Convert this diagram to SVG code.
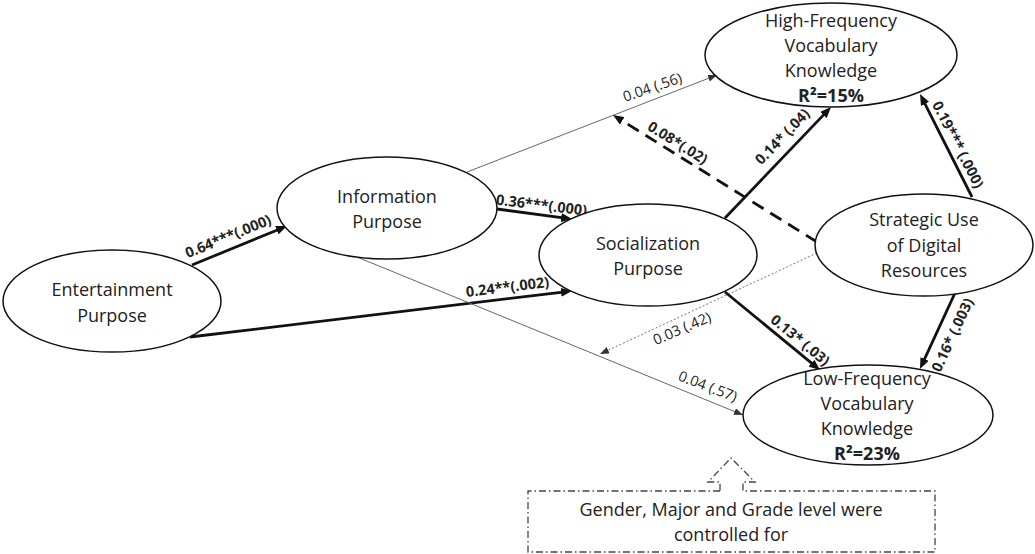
<svg xmlns="http://www.w3.org/2000/svg" width="1035" height="554" viewBox="0 0 1035 554">
<style>
.node ellipse{fill:#fff;stroke:#111;stroke-width:1.5}
.nt{font-family:"Open Sans","Liberation Sans",sans-serif;font-size:18px;fill:#222;text-anchor:middle}
.b{font-weight:bold}
.lb{font-family:"Open Sans","Liberation Sans",sans-serif;font-size:14.5px;fill:#222;text-anchor:middle}
.thick{stroke:#111;stroke-width:2.8;fill:none;marker-end:url(#ak)}
.thin{stroke:#666;stroke-width:1;fill:none;marker-end:url(#at)}
.dot{stroke:#777;stroke-width:1;stroke-dasharray:2 2;fill:none;marker-end:url(#at)}
.dash{stroke:#111;stroke-width:2.8;stroke-dasharray:13 8;fill:none;marker-end:url(#ak)}
.callout{fill:none;stroke:#444;stroke-width:1.3;stroke-dasharray:7 3 1.5 3}
</style>
<defs>
<marker id="ak" markerUnits="userSpaceOnUse" markerWidth="11" markerHeight="9" refX="4" refY="4.5" orient="auto"><path d="M0,0 L11,4.5 L0,9 z" fill="#111"/></marker>
<marker id="at" markerUnits="userSpaceOnUse" markerWidth="9" markerHeight="7" refX="9" refY="3.5" orient="auto"><path d="M0,0 L9,3.5 L0,7 z" fill="#333"/></marker>
</defs>
<rect width="1035" height="554" fill="#fff"/>
<g id="connectors">
<line class="thick" x1="192" y1="265" x2="280.5" y2="228.7"/>
<line class="thick" x1="190" y1="337" x2="565" y2="291.8"/>
<line class="thick" x1="497" y1="209" x2="565.1" y2="218.1"/>
<line class="thin" x1="467" y1="172" x2="717" y2="75"/>
<line class="thin" x1="357" y1="257" x2="743" y2="415"/>
<line class="thick" x1="725" y1="218" x2="826.2" y2="112.1"/>
<line class="thick" x1="972" y1="197" x2="923.2" y2="100.3"/>
<line class="dash" x1="817" y1="242" x2="618.9" y2="118.7"/>
<line class="dot" x1="817" y1="253" x2="600" y2="354"/>
<line class="thick" x1="725" y1="292" x2="814.6" y2="365.6"/>
<line class="thick" x1="955" y1="293" x2="922.9" y2="362.6"/>
<text class="lb b" transform="translate(230,241) rotate(-22.3)">0.64***(.000)</text>
<text class="lb b" transform="translate(508,292) rotate(-6.9)">0.24**(.002)</text>
<text class="lb b" transform="translate(541,210) rotate(7)">0.36***(.000)</text>
<text class="lb" transform="translate(654,92) rotate(-19)">0.04 (.56)</text>
<text class="lb" transform="translate(706,391) rotate(21)">0.04 (.57)</text>
<text class="lb b" transform="translate(786,140) rotate(-46)">0.14* (.04)</text>
<text class="lb b" transform="translate(953.5,147) rotate(63)">0.19*** (.000)</text>
<text class="lb b" transform="translate(675,147) rotate(32)">0.08*(.02)</text>
<text class="lb" transform="translate(684,333) rotate(-23.4)">0.03 (.42)</text>
<text class="lb b" transform="translate(797,344) rotate(39.4)">0.13* (.03)</text>
<text class="lb b" transform="translate(957,337) rotate(-65)">0.16* (.003)</text>
</g>
<g id="entertainment" class="node">
<ellipse cx="112" cy="301" rx="109" ry="51"/>
<text class="nt" x="112" y="296">Entertainment</text>
<text class="nt" x="112" y="322">Purpose</text>
</g>
<g id="information" class="node">
<ellipse cx="387" cy="208" rx="110" ry="51"/>
<text class="nt" x="387" y="203">Information</text>
<text class="nt" x="387" y="228">Purpose</text>
</g>
<g id="socialization" class="node">
<ellipse cx="648" cy="255" rx="109" ry="51"/>
<text class="nt" x="648" y="250">Socialization</text>
<text class="nt" x="648" y="275">Purpose</text>
</g>
<g id="high-frequency" class="node">
<ellipse cx="831" cy="55" rx="126" ry="52"/>
<text class="nt" x="831" y="27">High-Frequency</text>
<text class="nt" x="831" y="52">Vocabulary</text>
<text class="nt" x="831" y="77">Knowledge</text>
<text class="nt b" x="831" y="102">R²=15%</text>
</g>
<g id="strategic" class="node">
<ellipse cx="924" cy="245" rx="109" ry="51"/>
<text class="nt" x="924" y="226">Strategic Use</text>
<text class="nt" x="924" y="252">of Digital</text>
<text class="nt" x="924" y="277">Resources</text>
</g>
<g id="low-frequency" class="node">
<ellipse cx="868" cy="415" rx="125" ry="50"/>
<text class="nt" x="867" y="385">Low-Frequency</text>
<text class="nt" x="867" y="410">Vocabulary</text>
<text class="nt" x="867" y="435">Knowledge</text>
<text class="nt b" x="867" y="460">R²=23%</text>
</g>
<g id="controls">
<path class="callout" d="M720,491 H528 V552 H935 V491 H743 V482 H755 L731,458 L708,482 H720 Z"/>
<text class="nt" x="731" y="516">Gender, Major and Grade level were</text>
<text class="nt" x="731" y="541">controlled for</text>
</g>
</svg>
